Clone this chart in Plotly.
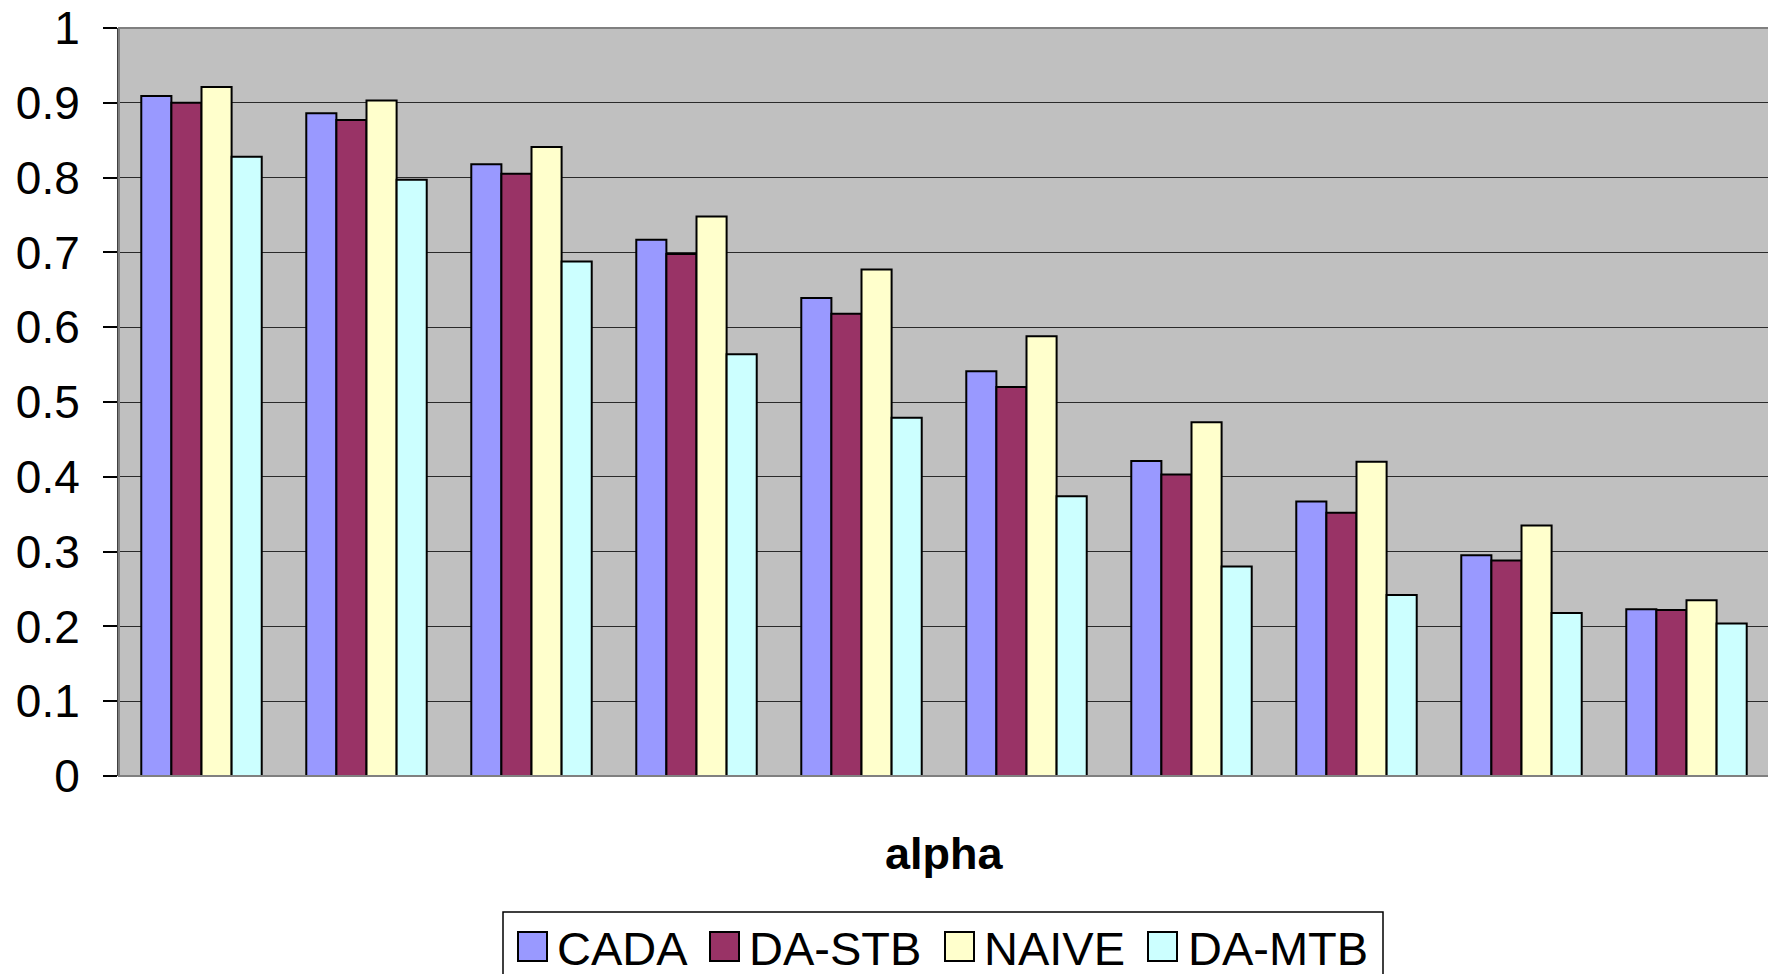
import plotly.graph_objects as go

alpha_idx = [1, 2, 3, 4, 5, 6, 7, 8, 9, 10]
series_names = ["CADA", "DA-STB", "NAIVE", "DA-MTB"]
cada   = [0.909, 0.886, 0.818, 0.717, 0.639, 0.541, 0.421, 0.367, 0.295, 0.223]
da_stb = [0.900, 0.877, 0.805, 0.698, 0.618, 0.520, 0.403, 0.352, 0.288, 0.222]
naive  = [0.921, 0.903, 0.841, 0.748, 0.677, 0.588, 0.473, 0.420, 0.335, 0.235]
da_mtb = [0.828, 0.797, 0.688, 0.564, 0.479, 0.374, 0.280, 0.242, 0.218, 0.204]
y_ticks = [0, 0.1, 0.2, 0.3, 0.4, 0.5, 0.6, 0.7, 0.8, 0.9, 1]
y_tick_labels = ["0", "0.1", "0.2", "0.3", "0.4", "0.5", "0.6", "0.7", "0.8", "0.9", "1"]

colors = ["#9999FF", "#993366", "#FFFFCC", "#CCFFFF"]
FONT = "Liberation Sans, Arial, sans-serif"

# page body has an 8px default margin; size the figure so it fits the window
OFF = 8
W, H = 1776 - OFF, 974 - OFF
# plot area in window pixels: x 119..1769, y 28..776
L, T = 119 - OFF, 28 - OFF
R = W - (1769 - OFF)
B = H - (776 - OFF)
PW, PH = W - L - R, H - T - B


def px(x):
    return (x - OFF - L) / PW


def py(y):
    return (H - B - (y - OFF)) / PH


fig = go.Figure()
for name, vals, col in zip(series_names, [cada, da_stb, naive, da_mtb], colors):
    fig.add_trace(go.Bar(
        x=alpha_idx, y=vals, name=name, showlegend=False,
        marker=dict(color=col, line=dict(color="black", width=2)),
    ))

shapes = [dict(
    type="rect", xref="paper", yref="paper", x0=0, x1=1, y0=0, y1=1,
    line=dict(color="#808080", width=2), layer="above",
)]
annotations = [dict(
    text="<b>alpha</b>", x=px(944), y=py(853), xref="paper", yref="paper",
    xanchor="center", yanchor="middle", showarrow=False,
    font=dict(family=FONT, size=45, color="black"),
)]

# legend box (bottom edge runs past the window, as in the reference)
shapes.append(dict(
    type="rect", xref="paper", yref="paper",
    x0=px(503), x1=px(1383), y0=py(912), y1=py(990),
    line=dict(color="black", width=1.5), fillcolor="white", layer="above",
))
sq_x = [518, 710, 945, 1148]
txt_x = [555, 747, 982, 1186]
for name, col, sx, tx in zip(series_names, colors, sq_x, txt_x):
    shapes.append(dict(
        type="rect", xref="paper", yref="paper",
        x0=px(sx), x1=px(sx + 29), y0=py(932), y1=py(961),
        line=dict(color="black", width=2), fillcolor=col, layer="above",
    ))
    annotations.append(dict(
        text=name, x=px(tx), y=py(948), xref="paper", yref="paper",
        xanchor="left", yanchor="middle", showarrow=False,
        font=dict(family=FONT, size=47, color="black"),
    ))

fig.update_layout(
    width=W, height=H,
    margin=dict(l=L, r=R, t=T, b=B, autoexpand=False),
    paper_bgcolor="white",
    plot_bgcolor="#C0C0C0",
    barmode="group",
    bargap=0.27,
    bargroupgap=0,
    font=dict(family=FONT, size=45, color="black"),
    showlegend=False,
    xaxis=dict(
        range=[0.5, 10.5],
        showticklabels=False,
        showgrid=False,
        zeroline=False,
        ticks="",
        showline=False,
        automargin=False,
    ),
    yaxis=dict(
        range=[0, 1],
        tickvals=y_ticks,
        ticktext=y_tick_labels,
        ticks="outside",
        ticklen=14,
        tickwidth=1.5,
        tickcolor="black",
        ticklabelstandoff=14,
        ticklabeloverflow="allow",
        showgrid=True,
        gridcolor="#2a2a2a",
        gridwidth=1.2,
        zeroline=False,
        showline=True,
        linecolor="#404040",
        linewidth=2,
        automargin=False,
        tickfont=dict(family=FONT, size=46, color="black"),
    ),
    annotations=annotations,
    shapes=shapes,
)

fig.write_html("out.html")
